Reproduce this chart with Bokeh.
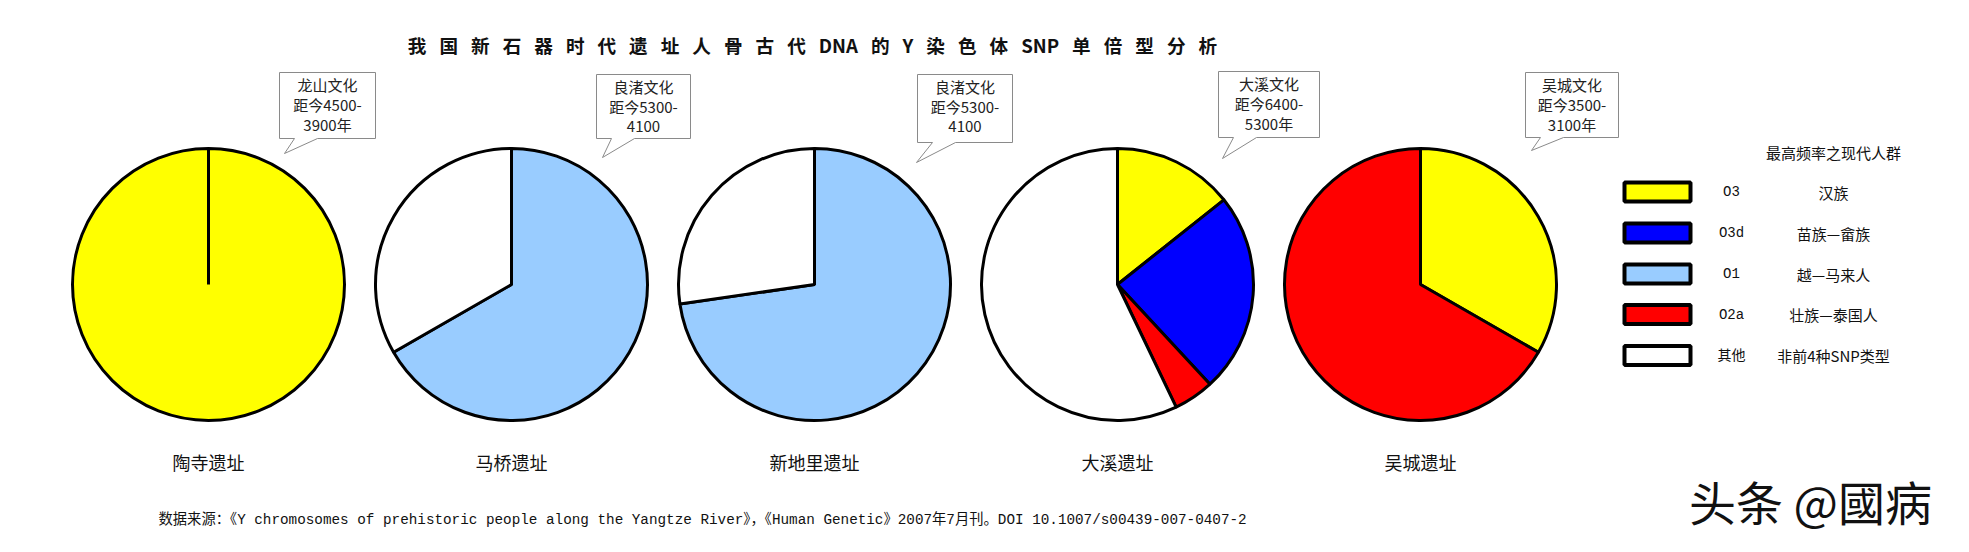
import numpy as np
from bokeh.plotting import figure
from bokeh.models import Range1d, ColumnDataSource
from bokeh.core.properties import value
from bokeh.embed import file_html
from bokeh.resources import INLINE

# ---------------- data ----------------
title_tokens = ["我", "国", "新", "石", "器", "时", "代", "遗", "址", "人", "骨", "古", "代",
                "DNA", "的", "Y", "染", "色", "体", "SNP", "单", "倍", "型", "分", "析"]
sites = ["陶寺遗址", "马桥遗址", "新地里遗址", "大溪遗址", "吴城遗址"]
cultures = ["龙山文化", "良渚文化", "良渚文化", "大溪文化", "吴城文化"]
period_line2 = ["距今4500-", "距今5300-", "距今5300-", "距今6400-", "距今3500-"]
period_line3 = ["3900年", "4100", "4100", "5300年", "3100年"]

haplogroups = ["O3", "O3d", "O1", "O2a", "其他"]
populations = ["汉族", "苗族—畲族", "越—马来人", "壮族—泰国人", "非前4种SNP类型"]
legend_title = "最高频率之现代人群"

# percentage of each haplogroup per site (clockwise order from 12 o'clock)
O3 = [100.0, 0.0, 0.0, 14.3, 33.3]
O3d = [0.0, 0.0, 0.0, 23.8, 0.0]
O1 = [0.0, 66.7, 72.7, 0.0, 0.0]
O2a = [0.0, 0.0, 0.0, 4.8, 66.7]
other = [0.0, 33.3, 27.3, 57.1, 0.0]

source_text = ("数据来源：《Y chromosomes of prehistoric people along the Yangtze River》，"
               "《Human Genetic》2007年7月刊。DOI 10.1007/s00439-007-0407-2")
watermark = "头条 @國病"

# ---------------- styles / layout ----------------
colors = ["#FFFF00", "#0000FF", "#99CCFF", "#FF0000", "#FFFFFF"]
CJK = "Noto Sans CJK SC"
MONO = "Liberation Mono, Noto Sans CJK SC"

W, H = 1953, 536
PIE_X0, PIE_DX, PIE_Y, PIE_R = 216, 303, 292, 136
BOX_LEFT = [287, 604, 925, 1226, 1533]
BOX_W = [96, 94, 95, 101, 93]
BOX_TOP = [80, 82, 82, 79, 80]
BOX_BOT = [146, 146, 150, 145, 145]
TIP = [(292, 161), (610, 165), (924, 170), (1230, 166), (1539, 158)]

p = figure(width=W, height=H, x_range=Range1d(8, 8 + W), y_range=Range1d(-(8 + H), -8),
           output_backend="svg", toolbar_location=None, min_border=0)
p.axis.visible = False
p.grid.visible = False
p.outline_line_color = None
p.background_fill_color = "white"
p.border_fill_color = "white"

# ---------------- pies ----------------
values = np.array([O3, O3d, O1, O2a, other], dtype=float)
px, py, st, en, fc = [], [], [], [], []
for i in range(len(sites)):
    col = values[:, i]
    frac = col / col.sum()
    cum = np.concatenate([[0.0], np.cumsum(frac)])
    cum[-1] = 1.0
    for g in range(len(haplogroups)):
        if frac[g] <= 0:
            continue
        px.append(PIE_X0 + i * PIE_DX)
        py.append(-PIE_Y)
        st.append(np.pi / 2 + 2 * np.pi * (1 - cum[g + 1]))
        en.append(np.pi / 2 + 2 * np.pi * (1 - cum[g]))
        fc.append(colors[g])
pie_src = ColumnDataSource(dict(x=px, y=py, start=st, end=en, color=fc))
p.wedge(x="x", y="y", radius=PIE_R, start_angle="start", end_angle="end",
        fill_color="color", line_color="black", line_width=3, source=pie_src)

# site labels
p.text(x=[PIE_X0 + i * PIE_DX for i in range(len(sites))], y=[-469] * len(sites), text=sites,
       text_font=value(CJK), text_font_size="18px", text_align="center",
       text_baseline="middle", text_color="#111111")

# ---------------- callouts ----------------
cx, cy = [], []
for i in range(len(cultures)):
    L, R, T, B = BOX_LEFT[i], BOX_LEFT[i] + BOX_W[i], BOX_TOP[i], BOX_BOT[i]
    tx, ty = TIP[i]
    xs = [L, R, R, L + 38, tx, L + 15, L]
    ys = [T, T, B, B, ty, B, B]
    cx.append(xs)
    cy.append([-v for v in ys])
p.patches(cx, cy, fill_color="white", line_color="#8a8a8a", line_width=1)
for k, lines in enumerate([cultures, period_line2, period_line3]):
    p.text(x=[BOX_LEFT[i] + BOX_W[i] / 2 for i in range(len(cultures))],
           y=[-(BOX_TOP[i] + 11.5 + 20 * k) for i in range(len(cultures))], text=lines,
           text_font=value(CJK), text_font_size="15px", text_align="center",
           text_baseline="middle", text_color="#222222")

# ---------------- legend ----------------
LEG_Y = [199.5, 240.5, 281.5, 322, 363]
p.rect(x=[1665] * 5, y=[-v for v in LEG_Y], width=66, height=19, fill_color=colors,
       line_color="black", line_width=4)
p.text(x=[1739] * 5, y=[-v for v in LEG_Y], text=haplogroups, text_font=value(MONO),
       text_font_size="14px", text_align="center", text_baseline="middle", text_color="#111111")
p.text(x=[1841] * 5, y=[-v for v in LEG_Y], text=populations, text_font=value(CJK),
       text_font_size="15px", text_align="center", text_baseline="middle", text_color="#111111")
p.text(x=[1841], y=[-160], text=[legend_title], text_font=value(CJK),
       text_font_size="15px", text_align="center", text_baseline="middle", text_color="#111111")

# ---------------- title, source, watermark ----------------
p.text(x=[820], y=[-52], text=["\u2002\u2009".join(title_tokens)], text_font=value(CJK),
       text_font_size="18.6px", text_font_style="bold", text_align="center",
       text_baseline="middle", text_color="#111111")
p.text(x=[166], y=[-527], text=[source_text], text_font=value(MONO), text_font_size="14.3px",
       text_align="left", text_baseline="middle", text_color="#111111")
p.text(x=[1818], y=[-508], text=[watermark], text_font=value(CJK), text_font_size="47px",
       text_align="center", text_baseline="middle", text_color="#111111")

open("out.html", "w").write(file_html(p, INLINE))
